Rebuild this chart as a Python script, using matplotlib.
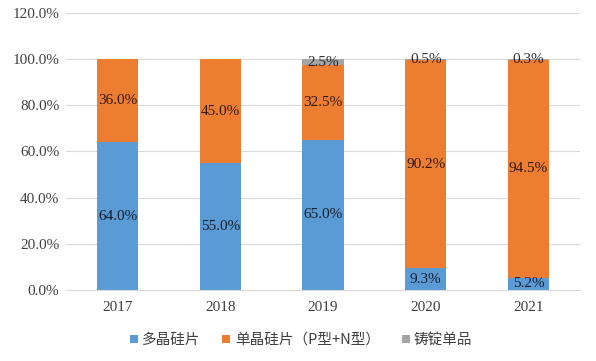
import numpy as np
import matplotlib
matplotlib.use('Agg')
import matplotlib.pyplot as plt
from matplotlib.ticker import FuncFormatter

plt.rcParams['font.family'] = ['Liberation Serif', 'Noto Sans CJK SC', 'DejaVu Sans']

years = ['2017', '2018', '2019', '2020', '2021']
poly = [64.0, 55.0, 65.0, 9.3, 5.2]
mono = [36.0, 45.0, 32.5, 90.2, 94.5]
cast = [0.0, 0.0, 2.5, 0.5, 0.3]
series_names = ['多晶硅片', '单晶硅片（P型+N型）', '铸锭单品']
colors = ['#5B9BD5', '#ED7D31', '#A5A5A5']

fig = plt.figure(figsize=(5.96, 3.61), dpi=100)
ax = fig.add_axes([0.111, 0.197, 0.862, 0.767])

x = np.arange(len(years))
w = 0.4
bottom = np.zeros(len(years))
for vals, name, c in zip([poly, mono, cast], series_names, colors):
    vals = np.array(vals)
    ax.bar(x, vals, w, bottom=bottom, color=c, label=name, zorder=3)
    for xi, b, v in zip(x, bottom, vals):
        if v > 0:
            ax.text(xi, b + v / 2, f'{v:.1f}%', ha='center', va='center',
                    fontsize=11, color='black', alpha=0.8, zorder=4)
    bottom += vals

ax.set_xlim(-0.5, 4.5)
ax.set_ylim(0, 120)
ax.set_yticks(np.arange(0, 121, 20))
ax.yaxis.set_major_formatter(FuncFormatter(lambda v, p: f'{v:.1f}%'))
ax.set_xticks(x)
ax.set_xticklabels(years)
ax.grid(axis='y', color='#D9D9D9', linewidth=0.8, zorder=0)
for s in ['top', 'right', 'left']:
    ax.spines[s].set_visible(False)
ax.spines['bottom'].set_color('#D9D9D9')
ax.tick_params(length=0, labelsize=11, colors='#404040')
ax.tick_params(axis='x', pad=8)
ax.tick_params(axis='y', pad=5)

leg = fig.legend(loc='center', bbox_to_anchor=(0.505, 0.058), ncol=3, frameon=False,
                 handlelength=0.55, handleheight=0.55, handletextpad=0.3,
                 columnspacing=1.5, prop={'family': ['Noto Sans CJK SC', 'DejaVu Sans'], 'size': 10.5})
for t in leg.get_texts():
    t.set_color('#404040')

fig.savefig('out.png', dpi=100)
